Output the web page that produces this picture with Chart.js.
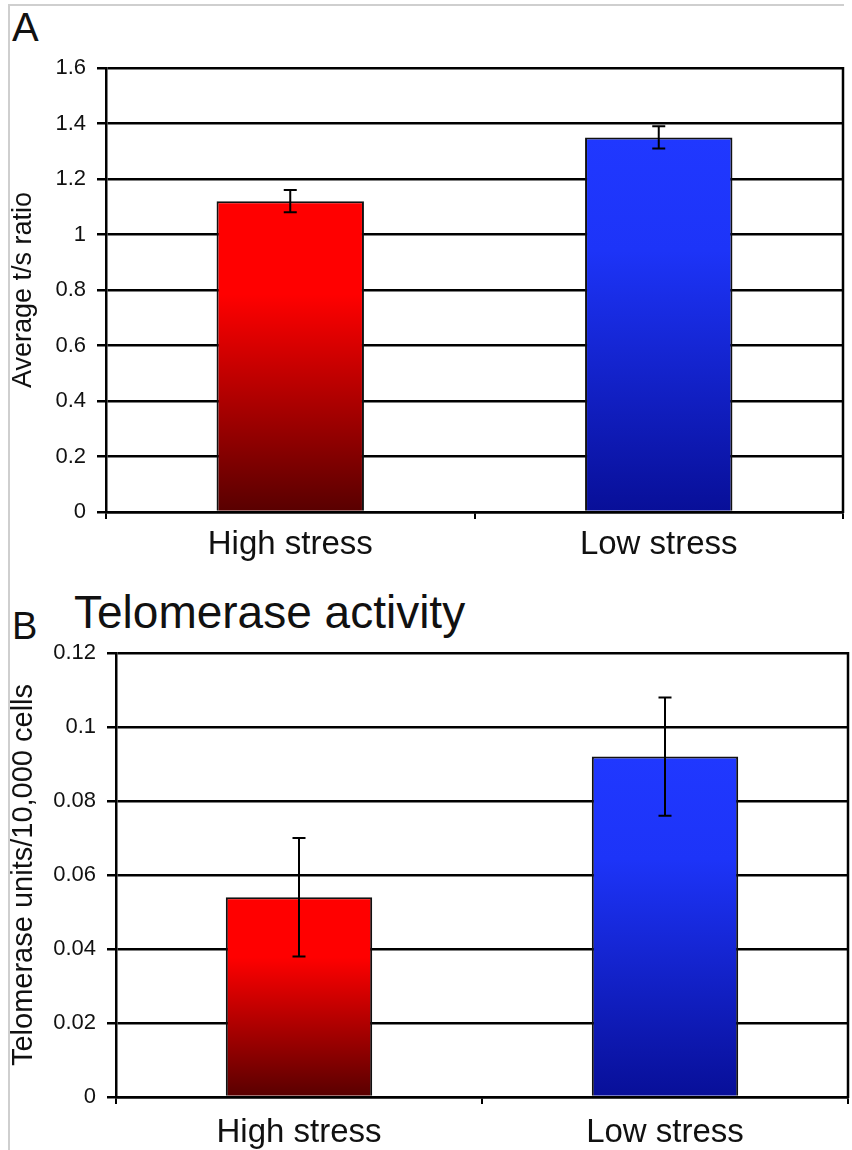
<!DOCTYPE html>
<html>
<head>
<meta charset="utf-8">
<script src="https://cdn.jsdelivr.net/npm/chart.js@4/dist/chart.umd.min.js"></script>
<style>
  body { margin: 0; background: #fff; }
  #page { position: relative; width: 852px; height: 1150px; overflow: hidden; background: #fff; font-family: "Liberation Sans", Arial, sans-serif; }
  .frame { position: absolute; left: 8px; top: 4px; width: 834px; height: 1160px; border-top: 2px solid #cfcfcf; border-left: 2px solid #cfcfcf; }
  .lbl { position: absolute; line-height: 1; color: #111; white-space: nowrap; }
  .box { position: absolute; left: 0; width: 852px; }
</style>
</head>
<body>
<div id="page">
  <div class="frame"></div>
  <div class="lbl" style="left:12px; top:7px; font-size:40px;">A</div>
  <div class="lbl" style="left:12px; top:607px; font-size:38px;">B</div>
  <div class="lbl" style="left:74px; top:589px; font-size:46px;">Telomerase activity</div>
  <div class="box" style="top:0; height:580px;"><canvas id="chartA"></canvas></div>
  <div class="box" style="top:620px; height:530px;"><canvas id="chartB"></canvas></div>
</div>
<script>
// data
const categories = ["High stress", "Low stress"];
const tsRatio = [1.12, 1.35];
const tsRatioErr = [0.04, 0.04];
const tsTicks = ["0", "0.2", "0.4", "0.6", "0.8", "1", "1.2", "1.4", "1.6"];
const telomerase = [0.054, 0.092];
const telomeraseErr = [0.016, 0.016];
const telTicks = ["0", "0.02", "0.04", "0.06", "0.08", "0.1", "0.12"];

const FONT = "'Liberation Sans', Arial, sans-serif";
const barShades = [
  ["#ff0000", "#ff0000", "#580000"],
  ["#2038ff", "#1d34f8", "#080f98"]
];

Chart.defaults.font.family = FONT;
Chart.defaults.color = "#111";

// bar fill: flat on top, darkening towards the axis
function barGradient(ctx) {
  const chart = ctx.chart;
  const shades = barShades[ctx.dataIndex] || barShades[0];
  if (!chart.chartArea || ctx.raw === undefined) return shades[0];
  const top = chart.scales.y.getPixelForValue(ctx.raw);
  const bottom = chart.chartArea.bottom;
  const g = chart.ctx.createLinearGradient(0, top, 0, bottom);
  g.addColorStop(0, shades[0]);
  g.addColorStop(0.3, shades[1]);
  g.addColorStop(1, shades[2]);
  return g;
}

const panelExtras = {
  id: "panelExtras",
  afterDatasetsDraw(chart, args, opts) {
    const ctx = chart.ctx;
    const y = chart.scales.y;
    const meta = chart.getDatasetMeta(0);
    const values = chart.data.datasets[0].data;
    ctx.save();
    ctx.strokeStyle = "#000";
    ctx.lineWidth = 2;
    // error bars
    meta.data.forEach((bar, i) => {
      const e = opts.errors[i];
      const y1 = y.getPixelForValue(values[i] + e);
      const y2 = y.getPixelForValue(values[i] - e);
      ctx.beginPath();
      ctx.moveTo(bar.x, y1); ctx.lineTo(bar.x, y2);
      ctx.moveTo(bar.x - 6.5, y1); ctx.lineTo(bar.x + 6.5, y1);
      ctx.moveTo(bar.x - 6.5, y2); ctx.lineTo(bar.x + 6.5, y2);
      ctx.stroke();
    });
    // right edge of the plot frame
    const a = chart.chartArea;
    ctx.lineWidth = 2.5;
    ctx.beginPath();
    ctx.moveTo(a.right, a.top - 1);
    ctx.lineTo(a.right, a.bottom + 1);
    ctx.stroke();
    ctx.restore();
  }
};

function makeChart(id, values, errors, tickLabels, max, step, title, opts) {
  return new Chart(document.getElementById(id), {
    type: "bar",
    data: {
      labels: categories,
      datasets: [{
        data: values,
        backgroundColor: barGradient,
        borderColor: "#111",
        borderWidth: 2,
        barPercentage: 0.4,
        categoryPercentage: 1.0
      }]
    },
    options: {
      responsive: true,
      maintainAspectRatio: false,
      animation: false,
      layout: { padding: { top: opts.padTop, right: opts.padRight, bottom: 0, left: 0 } },
      plugins: {
        legend: { display: false },
        tooltip: { enabled: false },
        panelExtras: { errors: errors }
      },
      scales: {
        x: {
          afterFit: (s) => { s.height = opts.xHeight; },
          grid: { display: true, drawOnChartArea: false, drawTicks: true, tickLength: 7, color: "#000", lineWidth: 2, offset: true },
          border: { display: true, color: "#000", width: 2.5 },
          ticks: { font: { size: 33 }, color: "#111", padding: opts.xPad }
        },
        y: {
          min: 0,
          max: max,
          afterFit: (s) => { s.width = opts.yWidth; },
          grid: { color: "#000", lineWidth: 2.5, tickLength: 9, drawTicks: true },
          border: { display: true, color: "#000", width: 2.5 },
          ticks: {
            stepSize: step,
            font: { size: 22 },
            color: "#111",
            padding: 11,
            callback: (v, i) => tickLabels[i]
          },
          title: {
            display: true,
            text: title,
            font: { size: opts.titleSize },
            color: "#111",
            padding: { top: 7, bottom: 0 }
          }
        }
      }
    },
    plugins: [panelExtras]
  });
}

makeChart("chartA", tsRatio, tsRatioErr, tsTicks, 1.6, 0.2, "Average t/s ratio",
  { padTop: 68, padRight: 9, xHeight: 68, yWidth: 106, xPad: 6, titleSize: 27 });
makeChart("chartB", telomerase, telomeraseErr, telTicks, 0.12, 0.02, "Telomerase units/10,000 cells",
  { padTop: 33, padRight: 4, xHeight: 53, yWidth: 116, xPad: 9, titleSize: 29 });
</script>
</body>
</html>
